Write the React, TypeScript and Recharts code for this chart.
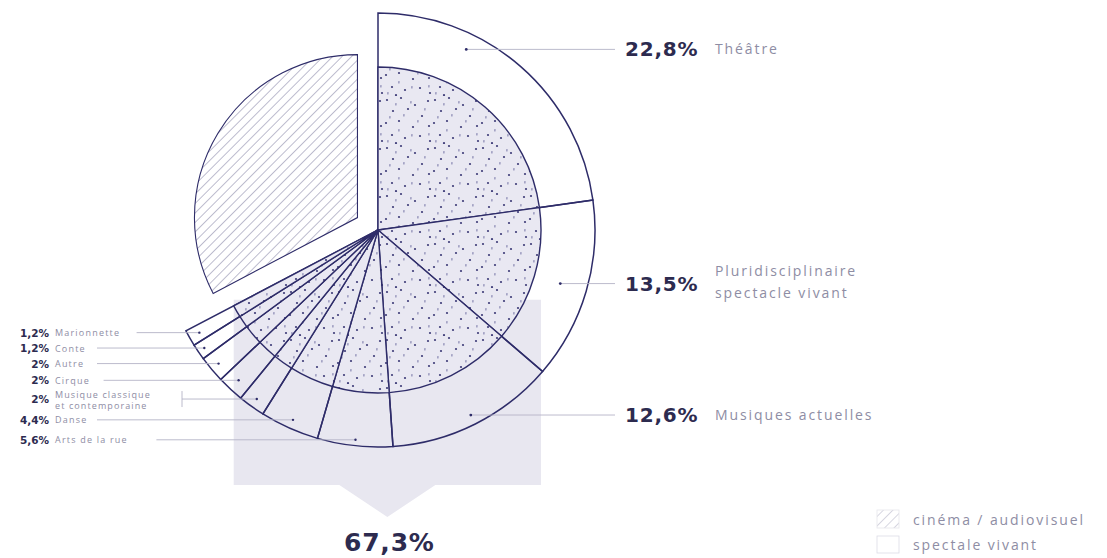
import React from 'react';
import { PieChart, Pie, Cell, Customized } from 'recharts';

// ---- data ----
const CATEGORIES = ['Théâtre', 'Pluridisciplinaire spectacle vivant', 'Musiques actuelles', 'Arts de la rue', 'Danse', 'Musique classique et contemporaine', 'Cirque', 'Autre', 'Conte', 'Marionnette', 'cinéma / audiovisuel'];
const VALUES = [22.8, 13.5, 12.6, 5.6, 4.4, 2, 2, 2, 1.2, 1.2, 32.7];
const GROUPS = ['sv', 'sv', 'sv', 'sv', 'sv', 'sv', 'sv', 'sv', 'sv', 'sv', 'cine'];
const PCT_LABELS = ['22,8%', '13,5%', '12,6%', '5,6%', '4,4%', '2%', '2%', '2%', '1,2%', '1,2%', '32,7%'];
const NAME_LINES = [['Théâtre'], ['Pluridisciplinaire', 'spectacle vivant'], ['Musiques actuelles'], ['Arts de la rue'], ['Danse'], ['Musique classique', 'et contemporaine'], ['Cirque'], ['Autre'], ['Conte'], ['Marionnette'], ['cinéma / audiovisuel']];
const TOTAL_LABEL = '67,3%';
const LEGEND_LABELS = ['cinéma / audiovisuel', 'spectale vivant'];

// ---- layout / style (not data) ----
const LABEL_SIDE = ['right', 'right', 'right', 'left', 'left', 'left', 'left', 'left', 'left', 'left'];
const LABEL_R = [201, 190, 207, 211, 208, 208, 205, 208, 210, 206];
const LABEL_SHIFT = [15, 0, 0, 0, 0, 0, 0, 0, 0, 0];

const CX = 378;
const CY = 230;
const R_OUT = 217;
const R_IN = 163;
const EXPLODE = 24;
const NAVY = '#2e2c69';
const TEXT_DARK = '#2d2b4f';
const TEXT_LIGHT = '#8e8da4';
const LEADER = '#b4b3c6';
const GREY_BG = '#e8e7f0';
const RAD = Math.PI / 180;
const PCT_FONT = '"DejaVu Sans", sans-serif';
const NAME_FONT = '"Open Sans", sans-serif';

const data = CATEGORIES.map((name, i) => ({ name, value: VALUES[i], group: GROUPS[i] }));
const svTotal = VALUES.filter((_, i) => GROUPS[i] === 'sv').reduce((a, b) => a + b, 0);
const allTotal = VALUES.reduce((a, b) => a + b, 0);
const cineValue = VALUES.filter((_, i) => GROUPS[i] === 'cine').reduce((a, b) => a + b, 0);
// mid angle of the cinema slice (math convention) for explosion
const cineMid = 90 - 360 * (svTotal + cineValue / 2) / allTotal;
const CX_CINE = CX + EXPLODE * Math.cos(cineMid * RAD);
const CY_CINE = CY - EXPLODE * Math.sin(cineMid * RAD);

// texture tile (decoration only)
const DOTS_DARK = [[3, 4], [17, 2], [31, 9], [44, 5], [9, 15], [24, 13], [38, 20], [2, 27], [15, 25], [29, 31], [45, 30], [8, 39], [21, 42], [36, 40], [46, 45], [12, 47]];
const DOTS_LIGHT = [[11, 7], [26, 5], [40, 12], [5, 20], [19, 18], [33, 24], [44, 37], [14, 33], [27, 38], [3, 44]];

function Defs() {
  return (
    <defs>
      <pattern id="dots" patternUnits="userSpaceOnUse" width="48" height="48">
        <rect width="48" height="48" fill="#e9e8f2" />
        {DOTS_LIGHT.map(([x, y], k) => (
          <rect key={'l' + k} x={x} y={y} width="1.7" height="2.6" rx="0.6" fill="#a3a2c4" />
        ))}
        {DOTS_DARK.map(([x, y], k) => (
          <circle key={'d' + k} cx={x} cy={y} r="1.1" fill="#3d3b78" />
        ))}
      </pattern>
      <pattern id="hatch" patternUnits="userSpaceOnUse" width="6.7" height="6.7" patternTransform="rotate(45)">
        <rect width="6.7" height="6.7" fill="#ffffff" />
        <line x1="0" y1="0" x2="0" y2="6.7" stroke="#5a5985" strokeWidth="0.8" />
      </pattern>
    </defs>
  );
}

function Background() {
  const endMath = 90 - 360 * svTotal / allTotal;
  const left = CX + R_IN * Math.cos(endMath * RAD);
  const top = CY - R_IN * Math.sin(endMath * RAD) - 6;
  const right = CX + R_IN;
  const bottom = CY + R_OUT + 38;
  const mid = (left + right) / 2;
  const pts = [
    [left, top], [right, top], [right, bottom], [mid + 48, bottom], [mid, bottom + 32], [mid - 48, bottom], [left, bottom],
  ].map((p) => p.join(',')).join(' ');
  return (
    <g>
      <Defs />
      <polygon points={pts} fill={GREY_BG} />
    </g>
  );
}

function Extras() {
  const endMath = 90 - 360 * svTotal / allTotal;
  const left = CX + R_IN * Math.cos(endMath * RAD);
  const right = CX + R_IN;
  const mid = (left + right) / 2;
  return (
    <g>
      <text x={mid + 2} y={551} textAnchor="middle" fontFamily={PCT_FONT} fontWeight="bold" fontSize={25} letterSpacing={0.8} fill={TEXT_DARK}>
        {TOTAL_LABEL}
      </text>
      <rect x={877} y={510} width={22} height={18} fill="url(#hatch)" stroke="#d8d8e2" strokeWidth={0.8} opacity={0.6} />
      <rect x={877} y={536} width={22} height={17} fill="#ffffff" stroke="#dcdce6" strokeWidth={0.8} />
      <text x={913} y={525} fontFamily={NAME_FONT} fontSize={14} letterSpacing={1.9} fill={TEXT_LIGHT}>{LEGEND_LABELS[0]}</text>
      <text x={913} y={550} fontFamily={NAME_FONT} fontSize={14} letterSpacing={1.9} fill={TEXT_LIGHT}>{LEGEND_LABELS[1]}</text>
    </g>
  );
}

function renderLabel(p: any) {
  const i = p.index;
  if (GROUPS[i] !== 'sv') return null;
  const ang = p.midAngle + LABEL_SHIFT[i];
  const x = p.cx + LABEL_R[i] * Math.cos(-ang * RAD);
  const y = p.cy + LABEL_R[i] * Math.sin(-ang * RAD);
  const lines = NAME_LINES[i];
  if (LABEL_SIDE[i] === 'right') {
    return (
      <g key={'lab' + i}>
        <line x1={x} y1={y} x2={615} y2={y} stroke={LEADER} strokeWidth={0.9} />
        <circle cx={x} cy={y} r={1.4} fill={NAVY} />
        <text x={625} y={y + 7} fontFamily={PCT_FONT} fontWeight="bold" fontSize={20} letterSpacing={0.8} fill={TEXT_DARK}>{PCT_LABELS[i]}</text>
        {lines.length === 1 ? (
          <text x={715} y={y + 5} fontFamily={NAME_FONT} fontSize={14} letterSpacing={1.9} fill={TEXT_LIGHT}>{lines[0]}</text>
        ) : (
          <g>
            <text x={715} y={y - 8} fontFamily={NAME_FONT} fontSize={14} letterSpacing={1.9} fill={TEXT_LIGHT}>{lines[0]}</text>
            <text x={715} y={y + 14} fontFamily={NAME_FONT} fontSize={14} letterSpacing={1.9} fill={TEXT_LIGHT}>{lines[1]}</text>
          </g>
        )}
      </g>
    );
  }
  const two = lines.length > 1;
  const startX = two ? 182 : 64 + 6.6 * lines[0].length;
  return (
    <g key={'lab' + i}>
      <line x1={startX} y1={y} x2={x} y2={y} stroke={LEADER} strokeWidth={0.9} />
      {two && <line x1={startX} y1={y - 8} x2={startX} y2={y + 8} stroke={LEADER} strokeWidth={0.9} />}
      <circle cx={x} cy={y} r={1.2} fill={NAVY} />
      <text x={49} y={y + 4} textAnchor="end" fontFamily={PCT_FONT} fontWeight="bold" fontSize={10.5} fill={TEXT_DARK}>{PCT_LABELS[i]}</text>
      {two ? (
        <g>
          <text x={55} y={y - 1} fontFamily={NAME_FONT} fontSize={9} letterSpacing={1.1} fill={TEXT_LIGHT}>{lines[0]}</text>
          <text x={55} y={y + 10} fontFamily={NAME_FONT} fontSize={9} letterSpacing={1.1} fill={TEXT_LIGHT}>{lines[1]}</text>
        </g>
      ) : (
        <text x={55} y={y + 3.5} fontFamily={NAME_FONT} fontSize={9} letterSpacing={1.2} fill={TEXT_LIGHT}>{lines[0]}</text>
      )}
    </g>
  );
}

export default function App() {
  return (
    <div style={{ position: 'absolute', left: 0, top: 0, width: 1107, height: 558, background: '#fff' }}>
      <PieChart width={1107} height={558} margin={{ top: 0, right: 0, bottom: 0, left: 0 }}>
        <Customized component={Background} />
        <Pie
          data={data}
          dataKey="value"
          cx={CX}
          cy={CY}
          innerRadius={0}
          outerRadius={R_OUT}
          startAngle={90}
          endAngle={-270}
          isAnimationActive={false}
          labelLine={false}
          label={renderLabel}
        >
          {data.map((d, i) => (
            <Cell key={i} fill="none" stroke={d.group === 'sv' ? NAVY : 'none'} strokeWidth={1.5} />
          ))}
        </Pie>
        <Pie
          data={data}
          dataKey="value"
          cx={CX}
          cy={CY}
          innerRadius={0}
          outerRadius={R_IN}
          startAngle={90}
          endAngle={-270}
          isAnimationActive={false}
        >
          {data.map((d, i) => (
            <Cell key={i} fill={d.group === 'sv' ? 'url(#dots)' : 'none'} stroke={d.group === 'sv' ? NAVY : 'none'} strokeWidth={1.4} />
          ))}
        </Pie>
        <Pie
          data={data}
          dataKey="value"
          cx={CX_CINE}
          cy={CY_CINE}
          innerRadius={0}
          outerRadius={R_IN}
          startAngle={90}
          endAngle={-270}
          isAnimationActive={false}
        >
          {data.map((d, i) => (
            <Cell key={i} fill={d.group === 'cine' ? 'url(#hatch)' : 'none'} stroke={d.group === 'cine' ? NAVY : 'none'} strokeWidth={1.1} />
          ))}
        </Pie>
        <Customized component={Extras} />
      </PieChart>
    </div>
  );
}
